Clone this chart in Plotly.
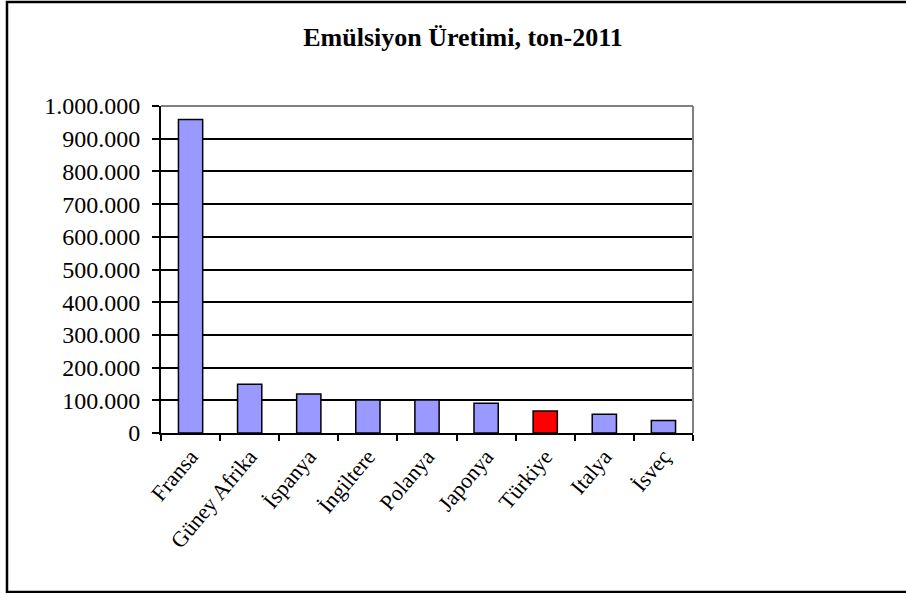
import plotly.graph_objects as go

countries = ["Fransa", "Güney Afrika", "İspanya", "İngiltere", "Polanya",
             "Japonya", "Türkiye", "Italya", "İsveç"]
production = [959000, 149000, 119000, 101000, 101000, 91000, 67000, 57000, 38000]
bar_colors = ["#9999FF"] * 6 + ["#FF0000"] + ["#9999FF"] * 2
y_ticks = [0, 100000, 200000, 300000, 400000, 500000, 600000, 700000, 800000, 900000, 1000000]

W, H = 906, 593
L, R, T, B = 161, 693, 106, 433
pw, ph = R - L, B - T

def px(x):
    return (x - L) / pw

def py(y):
    return (B - y) / ph

FONT = "Liberation Serif, Times New Roman, serif"

fig = go.Figure(go.Bar(
    x=countries, y=production,
    marker=dict(color=bar_colors, line=dict(color="black", width=1.5)),
    width=0.41,
))

fig.update_layout(
    width=W, height=H,
    margin=dict(l=L, r=W - R, t=T, b=H - B, pad=0),
    paper_bgcolor="white", plot_bgcolor="white",
    separators=",.",
    showlegend=False,
    font=dict(family=FONT, color="black", size=22),
    title=dict(text="<b>Emülsiyon Üretimi, ton-2011</b>",
               x=463 / W, xanchor="center", y=1 - 37 / H, yanchor="middle",
               font=dict(family=FONT, size=26, color="black")),
)

fig.update_yaxes(
    range=[0, 1000000], tickvals=y_ticks, tickformat=",d",
    showgrid=True, gridcolor="black", gridwidth=1.5,
    showline=True, linecolor="black", linewidth=2,
    ticks="outside", ticklen=7, tickwidth=1.5, tickcolor="black",
    ticklabelstandoff=7,
    tickfont=dict(family=FONT, size=24, color="black"),
    zeroline=False, fixedrange=True,
)
fig.update_xaxes(
    showline=True, linecolor="black", linewidth=2,
    ticks="outside", tickson="boundaries", ticklen=6, tickwidth=1.5, tickcolor="black",
    tickangle=-50,
    tickfont=dict(family=FONT, size=22, color="black"),
    showgrid=False, fixedrange=True,
)

# gray plot-area border on top and right
fig.add_shape(type="line", xref="paper", yref="paper", x0=0, x1=1, y0=1, y1=1,
              line=dict(color="#808080", width=2), layer="above")
fig.add_shape(type="line", xref="paper", yref="paper", x0=1, x1=1, y0=0, y1=1,
              line=dict(color="#808080", width=2), layer="above")
# outer chart frame
fig.add_shape(type="rect", xref="paper", yref="paper",
              x0=px(7), x1=px(910), y0=py(592), y1=py(2),
              line=dict(color="black", width=2.5), layer="above")

fig.write_html("out.html")
